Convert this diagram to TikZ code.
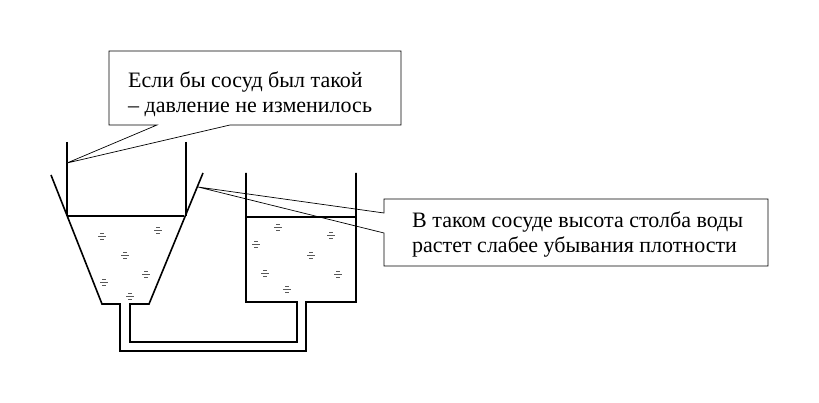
\documentclass[tikz,border=0pt]{standalone}
\usepackage{fontspec}
\setmainfont{Liberation Serif}
\newfontfamily\tnr{Liberation Serif}
\begin{document}
\begin{tikzpicture}[x=1pt,y=-1pt,
  wall/.style={line width=1.6pt,line join=miter},
  call/.style={line width=0.7pt},
  txt/.style={font=\tnr\fontsize{22}{25.5}\selectfont,align=left,anchor=north west,inner sep=0pt},
  wm/.pic={\draw[gray!70!black,line width=0.7pt] (-4,0)--(4,0) (-2,-3)--(2,-3) (-2,3)--(2,3);}]
\useasboundingbox (0,0) rectangle (819,403);
% left vessel and pipe
\draw[wall] (51,175) -- (102,304) -- (120,304) -- (120,351) -- (306,351) -- (306,302) -- (356,302) -- (356,173);
\draw[wall] (246,173) -- (246,302) -- (297,302) -- (297,342) -- (130,342) -- (130,304) -- (149,304) -- (203,173);
% water levels
\draw[wall] (67,216) -- (184,216);
\draw[wall] (246,217) -- (356,217);
% hypothetical vessel walls
\draw[wall] (67,142) -- (67,216);
\draw[wall] (186,142) -- (186,216);
% water marks
\foreach \p in {(102,236),(158,230),(125,255),(146,274),(104,282),(130,296),
                (278,227),(331,235),(256,244),(311,255),(265,273),(338,274),(287,289)}
  \pic at \p {wm};
% callout 1
\coordinate (t1) at (67,163);
\draw[call,fill=white] (109,51) -- (401,51) -- (401,125) -- (230,125) -- (t1) -- (157,125) -- (109,125) -- cycle;
\node[txt] (c1) at (128,71.5) {Если бы сосуд был такой\\– давление не изменилось};
% callout 2
\coordinate (t2) at (198,187);
\draw[call] (384,213) -- (t2) -- (384,233) -- (384,266) -- (768,266) -- (768,199) -- (384,199) -- cycle;
\node[txt] (c2) at (412,211.5) {В таком сосуде высота столба воды\\растет слабее убывания плотности};
\end{tikzpicture}
\end{document}
